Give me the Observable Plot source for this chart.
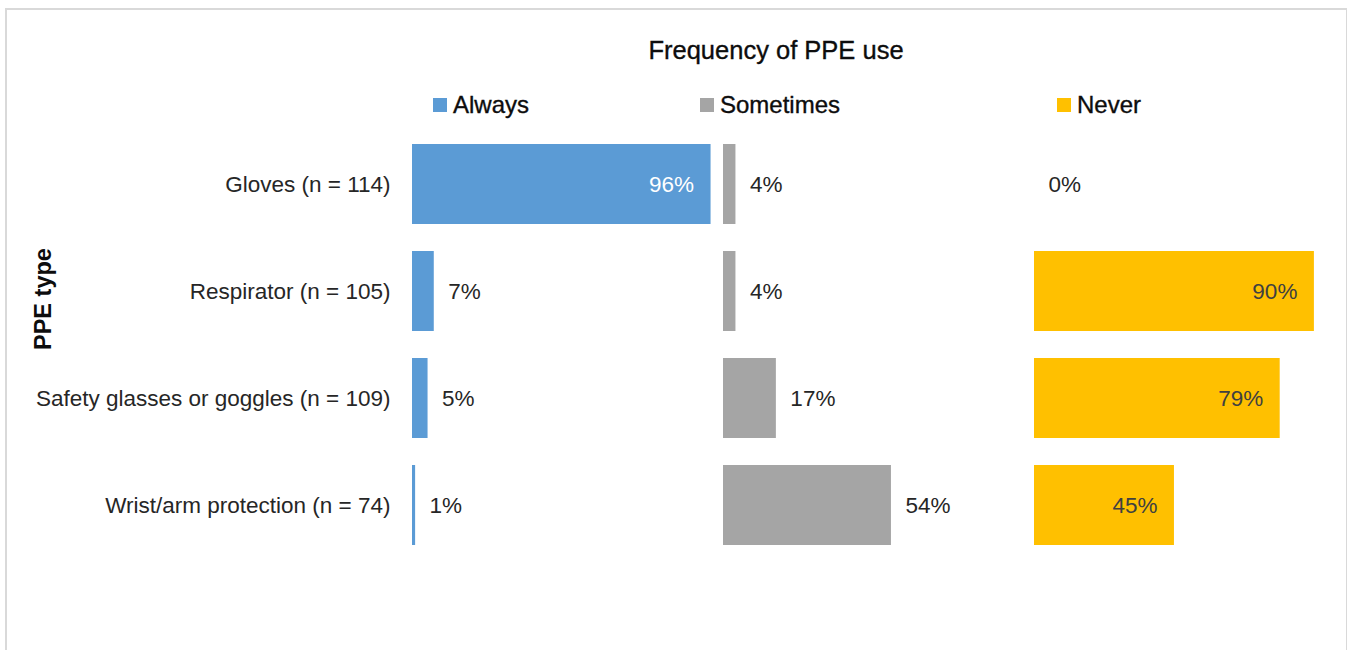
<!DOCTYPE html>
<html><head><meta charset="utf-8">
<script src="https://cdn.jsdelivr.net/npm/d3@7"></script>
<script src="https://cdn.jsdelivr.net/npm/@observablehq/plot@0.6"></script>
<style>
html,body{margin:0;padding:0;background:#fff;overflow:hidden;}
#wrap{position:relative;width:1347px;height:650px;font-family:"Liberation Sans",Arial,sans-serif;color:#0d0d0d;}
#frame{position:absolute;left:5px;top:8px;width:1339px;height:720px;border:2px solid #d9d9d9;pointer-events:none;}
#header{position:relative;height:116px;}
#title{position:absolute;left:526px;width:500px;top:35px;line-height:30px;text-align:center;font-size:25.5px;-webkit-text-stroke:0.35px #0d0d0d;}
.leg{position:absolute;top:90px;line-height:30px;font-size:24px;white-space:nowrap;-webkit-text-stroke:0.35px #0d0d0d;}
.leg i{position:absolute;left:0;top:8px;width:14px;height:14px;}
.leg span{position:absolute;left:20px;top:0;}
#chart svg{display:block;}
</style>
</head><body>
<div id="wrap">
  <div id="header">
    <div id="title">Frequency of PPE use</div>
    <div id="legend"></div>
  </div>
  <div id="chart"></div>
  <div id="frame"></div>
</div>
<script>
const categories = ["Gloves (n = 114)", "Respirator (n = 105)", "Safety glasses or goggles (n = 109)", "Wrist/arm protection (n = 74)"];
const series = ["Always", "Sometimes", "Never"];
const colors = ["#5B9BD5", "#A5A5A5", "#FFC000"];
const always = [96, 7, 5, 1];
const sometimes = [4, 4, 17, 54];
const never = [0, 90, 79, 45];
const yTitle = "PPE type";

const values = [always, sometimes, never];
const rows = [];
series.forEach((s, si) => categories.forEach((c, ci) => rows.push({series: s, category: c, value: values[si][ci]})));

// legend (HTML, above the SVG)
const legendLeft = [433, 700, 1057];
const legend = document.getElementById("legend");
series.forEach((s, i) => {
  const d = document.createElement("div");
  d.className = "leg";
  d.style.left = legendLeft[i] + "px";
  d.innerHTML = `<i style="background:${colors[i]}"></i><span>${s}</span>`;
  legend.appendChild(d);
});

const inside = d => d.value > 30 && d.series !== "Sometimes";
const insideFill = d => d.series === "Always" ? "#ffffff" : "#404040";

const chart = Plot.plot({
  width: 1347,
  height: 534,
  marginLeft: 412,
  marginRight: 2,
  marginTop: 0,
  marginBottom: 77,
  style: {fontFamily: '"Liberation Sans", Arial, sans-serif', fontSize: "22.5px", color: "#262626", background: "transparent"},
  fx: {domain: series, padding: 0, axis: null},
  x: {domain: [0, 100], axis: null},
  y: {domain: categories, padding: 0.255, axis: null},
  color: {domain: series, range: colors},
  marks: [
    Plot.barX(rows, {fx: "series", y: "category", x: "value", fill: "series"}),
    Plot.text(rows.filter(d => !inside(d)), {fx: "series", y: "category", x: "value", text: d => d.value + "%", textAnchor: "start", dx: 14, fill: "#262626", fontSize: 22.5}),
    Plot.text(rows.filter(inside), {fx: "series", y: "category", x: "value", text: d => d.value + "%", textAnchor: "end", dx: -17, fill: insideFill, fontSize: 22.5}),
    Plot.axisY({fx: () => series[0], tickSize: 0, tickPadding: 22, fontSize: 22.5, label: null, fill: "#262626"}),
    Plot.text([yTitle], {fx: () => series[0], text: d => d, frameAnchor: "left", rotate: -90, dx: -369, dy: 5, fontSize: 23.5, fontWeight: "bold", fill: "#0d0d0d"})
  ]
});
document.getElementById("chart").appendChild(chart);
</script>
</body></html>
